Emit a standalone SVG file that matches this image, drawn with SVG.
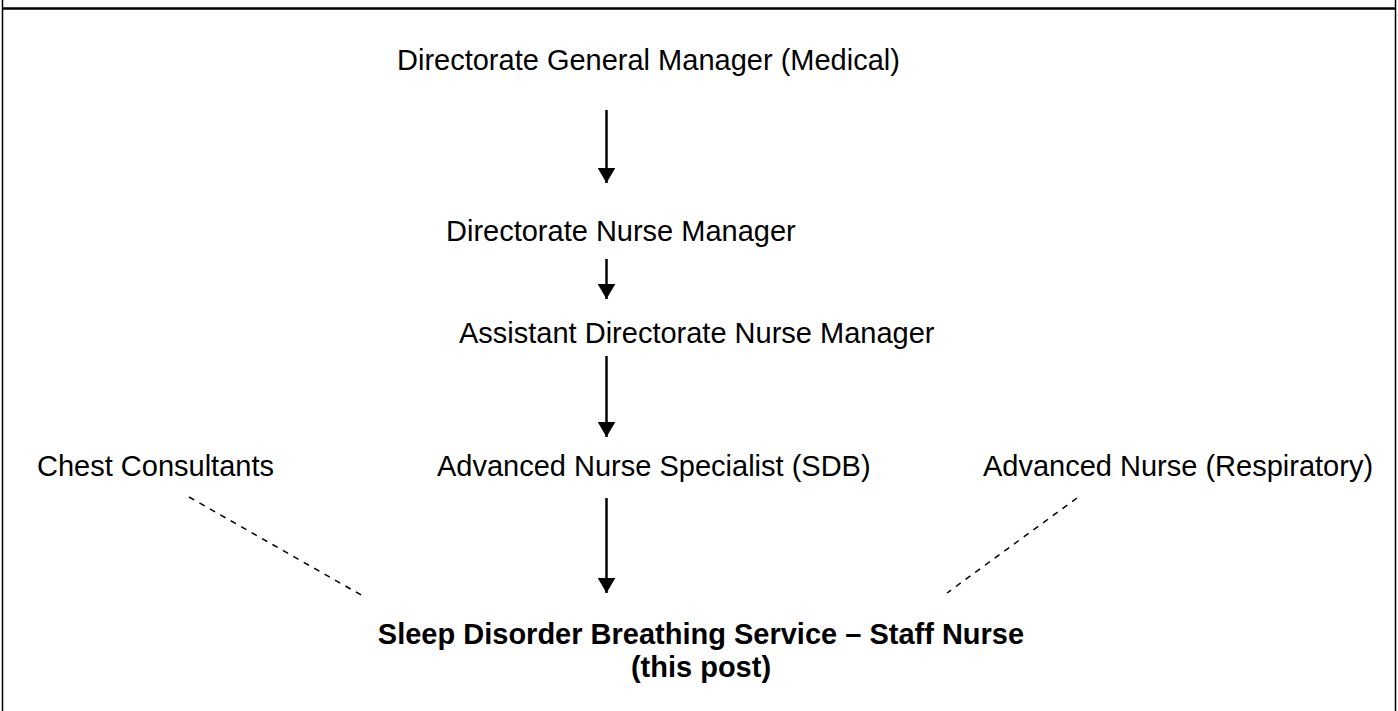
<svg xmlns="http://www.w3.org/2000/svg" width="1398" height="711" viewBox="0 0 1398 711">
<style>
text{font-family:"Liberation Sans",Arial,sans-serif;font-size:29px;fill:#000}
.b{font-weight:bold}
.c{stroke:#000;stroke-width:2.5;fill:none}
.d{stroke:#000;stroke-width:1.5;fill:none;stroke-dasharray:6,6}
</style>
<defs>
<marker id="ah" markerWidth="6" markerHeight="7" refX="6" refY="3.5" orient="auto" markerUnits="strokeWidth">
<path d="M0,0 L6,3.5 L0,7 Z" fill="#000"/>
</marker>
</defs>
<rect width="1398" height="711" fill="#fff"/>
<g id="frame">
<line x1="2.5" y1="0" x2="2.5" y2="711" stroke="#000" stroke-width="1.5"/>
<line x1="1395.5" y1="0" x2="1395.5" y2="711" stroke="#000" stroke-width="1.5"/>
<line x1="2" y1="8.5" x2="1396" y2="8.5" stroke="#000" stroke-width="2.5"/>
</g>
<g id="connectors">
<line class="c" x1="606.5" y1="110" x2="606.5" y2="183" marker-end="url(#ah)"/>
<line class="c" x1="606.5" y1="259" x2="606.5" y2="299" marker-end="url(#ah)"/>
<line class="c" x1="606.5" y1="356" x2="606.5" y2="437" marker-end="url(#ah)"/>
<line class="c" x1="606.5" y1="498" x2="606.5" y2="593" marker-end="url(#ah)"/>
<line class="d" x1="189" y1="497" x2="363" y2="596"/>
<line class="d" x1="1077" y1="498" x2="947" y2="593"/>
</g>
<g id="n1"><text x="397" y="70">Directorate General Manager (Medical)</text></g>
<g id="n2"><text x="446" y="241">Directorate Nurse Manager</text></g>
<g id="n3"><text x="459" y="343">Assistant Directorate Nurse Manager</text></g>
<g id="n4"><text x="37" y="476">Chest Consultants</text></g>
<g id="n5"><text x="437" y="476">Advanced Nurse Specialist (SDB)</text></g>
<g id="n6"><text x="983" y="476">Advanced Nurse (Respiratory)</text></g>
<g id="n7"><text class="b" x="701" y="644" text-anchor="middle">Sleep Disorder Breathing Service – Staff Nurse</text><text class="b" x="701" y="677" text-anchor="middle">(this post)</text></g>
</svg>
